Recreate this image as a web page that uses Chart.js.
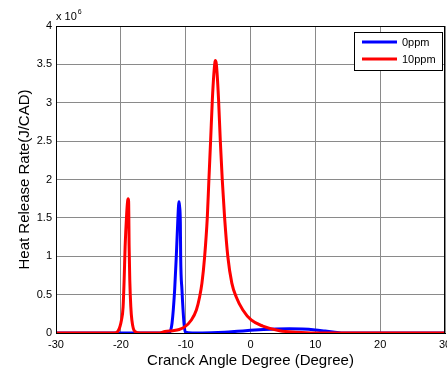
<!DOCTYPE html>
<html>
<head>
<meta charset="utf-8">
<script src="https://cdn.jsdelivr.net/npm/chart.js@4.4.1/dist/chart.umd.min.js"></script>
<style>
html,body{margin:0;padding:0;background:#fff;}
#wrap{width:447px;height:372px;position:relative;}
</style>
</head>
<body>
<div id="wrap"><canvas id="c" width="447" height="372"></canvas></div>
<script>
// Crank angle (deg) and heat release rate (x 10^6 J/CAD)
const angle0ppm = [-30, -13, -12.5, -12.1, -11.7, -11.45, -11.23, -11.1, -11.03, -10.95, -10.82, -10.77, -10.57, -10.26, -10.05, -9, -6, -4, -2, 0, 2, 4, 6, 8, 10, 11.5, 13, 14, 30];
const hrr0ppm   = [0, 0, 0.01, 0.13, 0.56, 0.99, 1.43, 1.66, 1.71, 1.66, 1.43, 0.99, 0.56, 0.13, 0.01, 0, 0.003, 0.01, 0.022, 0.035, 0.045, 0.052, 0.055, 0.052, 0.04, 0.025, 0.01, 0, 0];

const angle10ppm = [-30, -21, -20.4, -19.9, -19.65, -19.49, -19.34, -19.1, -18.95, -18.88, -18.8, -18.72, -18.62, -18.46, -18.3, -17.85, -17, -14, -13.2, -12, -11, -10.15, -9.12, -8.35, -7.85, -7.49, -7.08, -6.66, -6.42, -6.15, -5.89, -5.65, -5.5, -5.43, -5.3, -5.15, -4.92, -4.66, -4.35, -4.0, -3.49, -2.88, -2.2, -1.18, 0.1, 1.9, 4.5, 7, 10, 30];
const hrr10ppm   = [0, 0, 0.03, 0.17, 0.34, 0.69, 1.12, 1.55, 1.72, 1.75, 1.72, 1.12, 0.69, 0.34, 0.17, 0.02, 0, 0, 0.02, 0.03, 0.045, 0.08, 0.17, 0.30, 0.47, 0.65, 0.99, 1.51, 1.99, 2.51, 3.03, 3.38, 3.52, 3.55, 3.52, 3.38, 3.03, 2.51, 1.99, 1.51, 0.99, 0.65, 0.47, 0.30, 0.17, 0.09, 0.03, 0.01, 0, 0];

const seriesNames = ['0ppm', '10ppm'];
const xTicks = [-30, -20, -10, 0, 10, 20, 30];
const yTicks = [0, 0.5, 1, 1.5, 2, 2.5, 3, 3.5, 4];
const yTickLabels = ['0', '0.5', '1', '1.5', '2', '2.5', '3', '3.5', '4'];

const FONT = 'Arial, "Liberation Sans", sans-serif';
const toXY = (xs, ys) => xs.map((x, i) => ({x: x, y: ys[i]}));

const framePlugin = {
  id: 'frame',
  afterDatasetsDraw(chart) {
    const ctx = chart.ctx, a = chart.chartArea;
    ctx.save();
    ctx.strokeStyle = '#000';
    ctx.lineWidth = 1;
    ctx.strokeRect(Math.round(a.left) + 0.5, Math.round(a.top) + 0.5, Math.round(a.right - a.left) - 1, Math.round(a.bottom - a.top));
    // exponent label
    ctx.fillStyle = '#000';
    ctx.textBaseline = 'alphabetic';
    ctx.textAlign = 'left';
    ctx.font = '11px ' + FONT;
    ctx.fillText('x 10', a.left, a.top - 6);
    const w = ctx.measureText('x 10').width;
    ctx.font = '7px ' + FONT;
    ctx.fillText('6', a.left + w + 1, a.top - 12);
    // legend box
    const bx = 354, by = 32, bw = 88, bh = 38;
    ctx.fillStyle = '#fff';
    ctx.fillRect(bx, by, bw, bh);
    ctx.strokeStyle = '#000';
    ctx.strokeRect(bx + 0.5, by + 0.5, bw, bh);
    const ds = chart.data.datasets;
    const rows = [42, 59];
    ds.forEach((d, i) => {
      ctx.strokeStyle = d.borderColor;
      ctx.lineWidth = 3;
      ctx.beginPath();
      ctx.moveTo(362, rows[i]);
      ctx.lineTo(397, rows[i]);
      ctx.stroke();
      ctx.fillStyle = '#000';
      ctx.font = '11px ' + FONT;
      ctx.textBaseline = 'middle';
      ctx.fillText(d.label, 402, rows[i] + 0.5);
    });
    ctx.restore();
  }
};

new Chart(document.getElementById('c'), {
  type: 'scatter',
  data: {
    datasets: [
      {label: seriesNames[0], data: toXY(angle0ppm, hrr0ppm), borderColor: '#0000ff', backgroundColor: '#0000ff', showLine: true, pointRadius: 0, borderWidth: 3, cubicInterpolationMode: 'monotone', order: 2},
      {label: seriesNames[1], data: toXY(angle10ppm, hrr10ppm), borderColor: '#ff0000', backgroundColor: '#ff0000', showLine: true, pointRadius: 0, borderWidth: 3, cubicInterpolationMode: 'monotone', order: 1}
    ]
  },
  options: {
    responsive: false,
    animation: false,
    layout: {padding: {top: 26, right: 2, left: 0, bottom: 0}},
    plugins: {legend: {display: false}, tooltip: {enabled: false}},
    scales: {
      x: {
        type: 'linear', min: -30, max: 30,
        afterBuildTicks: s => { s.ticks = xTicks.map(v => ({value: v})); },
        afterFit: s => { s.height = 39; s.paddingLeft = 0; s.paddingRight = 0; },
        grid: {color: '#8a8a8a', lineWidth: 1, drawTicks: false},
        border: {display: true, color: '#000'},
        ticks: {color: '#000', font: {family: FONT, size: 11}, padding: 5, maxRotation: 0, callback: v => String(v)},
        title: {display: true, text: 'Cranck Angle Degree (Degree)', color: '#000', font: {family: FONT, size: 15}, padding: {top: 0, bottom: 2}}
      },
      y: {
        min: 0, max: 4,
        afterBuildTicks: s => { s.ticks = yTicks.map(v => ({value: v})); },
        afterFit: s => { s.width = 56; s.paddingTop = 0; s.paddingBottom = 0; },
        grid: {color: '#8a8a8a', lineWidth: 1, drawTicks: false},
        border: {display: true, color: '#000'},
        ticks: {color: '#000', font: {family: FONT, size: 11}, padding: 4, callback: (v) => yTickLabels[yTicks.indexOf(v)]},
        title: {display: true, text: 'Heat Release Rate(J/CAD)', color: '#000', font: {family: FONT, size: 15}, padding: {top: 16, bottom: 0}}
      }
    }
  },
  plugins: [framePlugin]
});
</script>
</body>
</html>
